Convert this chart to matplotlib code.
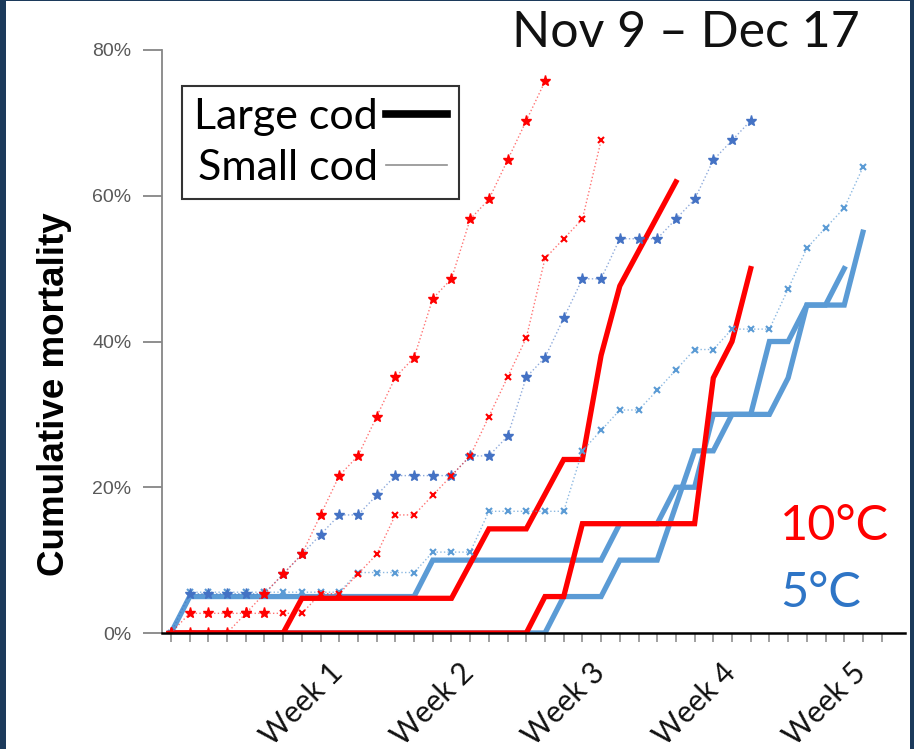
import numpy as np
import matplotlib
matplotlib.use("Agg")
import matplotlib.pyplot as plt
from matplotlib.patches import Rectangle
from matplotlib.lines import Line2D
from matplotlib.colors import to_rgba

# days since Nov 9 (one tick per day)
days_all = np.arange(39)
week_days = [7, 14, 21, 28, 35]
week_labels = ["Week 1", "Week 2", "Week 3", "Week 4", "Week 5"]

# cumulative mortality (%), large cod (thick lines)
large_10_a = [0, 0, 0, 0, 0, 0, 0, 4.76, 4.76, 4.76, 4.76, 4.76, 4.76, 4.76, 4.76, 4.76,
              9.52, 14.29, 14.29, 14.29, 19.05, 23.81, 23.81, 38.1, 47.62, 52.38, 57.14, 61.9]
large_10_b = [0] * 20 + [5, 5] + [15] * 7 + [35, 40, 50]
large_5_a = [0] + [5] * 13 + [10] * 10 + [15] * 3 + [20, 20, 30, 30, 30, 40, 40, 45, 45, 50]
large_5_b = [0] * 21 + [5] * 3 + [10] * 3 + [17.5, 25, 25, 30, 30, 30, 35, 45, 45, 45, 55]

# small cod (thin dotted lines with markers)
small_10_a = [0, 0, 0, 0, 2.7, 5.4, 8.1, 10.8, 16.2, 21.6, 24.3, 29.7, 35.1, 37.8,
              45.9, 48.6, 56.8, 59.5, 64.9, 70.3, 75.7]
small_10_b = [0, 2.7, 2.7, 2.7, 2.7, 2.7, 2.7, 2.7, 5.4, 5.4, 8.1, 10.8, 16.2, 16.2,
              18.9, 21.6, 24.3, 29.7, 35.1, 40.5, 51.4, 54.1, 56.8, 67.6]
small_5_a = [0, 5.4, 5.4, 5.4, 5.4, 5.4, 8.1, 10.8, 13.5, 16.2, 16.2, 18.9, 21.6, 21.6,
             21.6, 21.6, 24.3, 24.3, 27.0, 35.1, 37.8, 43.2, 48.6, 48.6, 54.1, 54.1,
             54.1, 56.8, 59.5, 64.9, 67.6, 70.3]
small_5_b = [0] + [5.6] * 9 + [8.3] * 4 + [11.1] * 3 + [16.7] * 5 + [25, 27.8, 30.6, 30.6,
             33.3, 36.1, 38.9, 38.9, 41.7, 41.7, 41.7, 47.2, 52.8, 55.6, 58.3, 63.9]

RED = "#ff0000"
BLUE_L = "#5b9bd5"
BLUE_D = "#4472c4"
NAVY = "#1c3a5b"

plt.rcParams["font.family"] = ["Lato", "DejaVu Sans"]

fig = plt.figure(figsize=(9.14, 7.49), dpi=100)
fig.patch.set_facecolor(NAVY)
fig.add_artist(Rectangle((6 / 914, 0), 904 / 914, 748 / 749, transform=fig.transFigure,
                         facecolor="white", edgecolor="none", zorder=0))

ax = fig.add_axes([162 / 914, 116 / 749, 743 / 914, 583 / 749])
ax.patch.set_alpha(0)


def days(v):
    return days_all[:len(v)]


# thick lines: large cod
for v in (large_5_a, large_5_b):
    ax.plot(days(v), v, color=BLUE_L, lw=3.8, zorder=2, solid_joinstyle="miter")
for v in (large_10_a, large_10_b):
    ax.plot(days(v), v, color=RED, lw=3.8, zorder=3, solid_joinstyle="miter")

# thin lines: small cod
ax.plot(days(small_5_b), small_5_b, ls=":", lw=1.0, color=to_rgba(BLUE_L, 0.7),
        marker="x", ms=5, mew=1.5, mec=BLUE_L, zorder=4)
ax.plot(days(small_5_a), small_5_a, ls=":", lw=1.0, color=to_rgba(BLUE_D, 0.6),
        marker="*", ms=8, mec=BLUE_D, mfc=BLUE_D, zorder=4)
ax.plot(days(small_10_b), small_10_b, ls=":", lw=1.0, color=to_rgba(RED, 0.55),
        marker="x", ms=5, mew=1.5, mec=RED, markevery=slice(6, None), zorder=5)
ax.plot(days(small_10_b)[:6], small_10_b[:6], ls="none", marker="*", ms=8, color=RED,
        zorder=5)
ax.plot(days(small_10_a), small_10_a, ls=":", lw=1.0, color=to_rgba(RED, 0.55),
        marker="*", ms=8, mec=RED, mfc=RED, zorder=5)

ax.set_xlim(-0.48, 39.25)
ax.set_ylim(0, 80)

for s in ("top", "right"):
    ax.spines[s].set_visible(False)
ax.spines["left"].set_color("#868686")
ax.spines["left"].set_linewidth(1.3)
ax.spines["bottom"].set_color("black")
ax.spines["bottom"].set_linewidth(1.8)
ax.spines["bottom"].set_zorder(6)

ax.set_yticks([0, 20, 40, 60, 80])
ax.set_yticklabels(["0%", "20%", "40%", "60%", "80%"], fontsize=14,
                   family="Liberation Sans", color="#595959")
ax.tick_params(axis="y", length=13.5, width=1.3, color="#868686", pad=8.5)
ax.set_xticks(days_all)
ax.set_xticklabels([])
ax.tick_params(axis="x", length=6.5, width=1.1, color="#868686")

for d, lab in zip(week_days, week_labels):
    ax.text(d + 1.4, -0.043, lab, transform=ax.get_xaxis_transform(), rotation=45,
            ha="right", va="top", rotation_mode="anchor", fontsize=21.5, color="#111111")

fig.text(55 / 914, 1 - 394 / 749, "Cumulative mortality", rotation=90, ha="center",
         va="center", fontsize=26.5, fontweight="bold", family="Liberation Sans")

fig.text(860 / 914, 1 - 47 / 749, "Nov 9 \u2013 Dec 17", ha="right", va="baseline",
         fontsize=36, color="#111111")
fig.text(780 / 914, 1 - 540 / 749, "10\u00b0C", ha="left", va="baseline", fontsize=35,
         color=RED)
fig.text(780 / 914, 1 - 607 / 749, "5\u00b0C", ha="left", va="baseline", fontsize=35,
         color="#2e75c6")

handles = [Line2D([], [], color="black", lw=5.5), Line2D([], [], color="#909090", lw=1.2)]
leg = ax.legend(handles, ["Large cod", "Small cod"], loc="upper left",
                bbox_to_anchor=(20 / 743, 547 / 583), borderaxespad=0, markerfirst=False,
                fontsize=31, frameon=True, fancybox=False, borderpad=0.28,
                labelspacing=0.3, handletextpad=0.2, handlelength=1.4)
leg.get_frame().set_edgecolor("black")
leg.get_frame().set_linewidth(1.5)

fig.savefig("out.png", dpi=100, facecolor=fig.get_facecolor())
